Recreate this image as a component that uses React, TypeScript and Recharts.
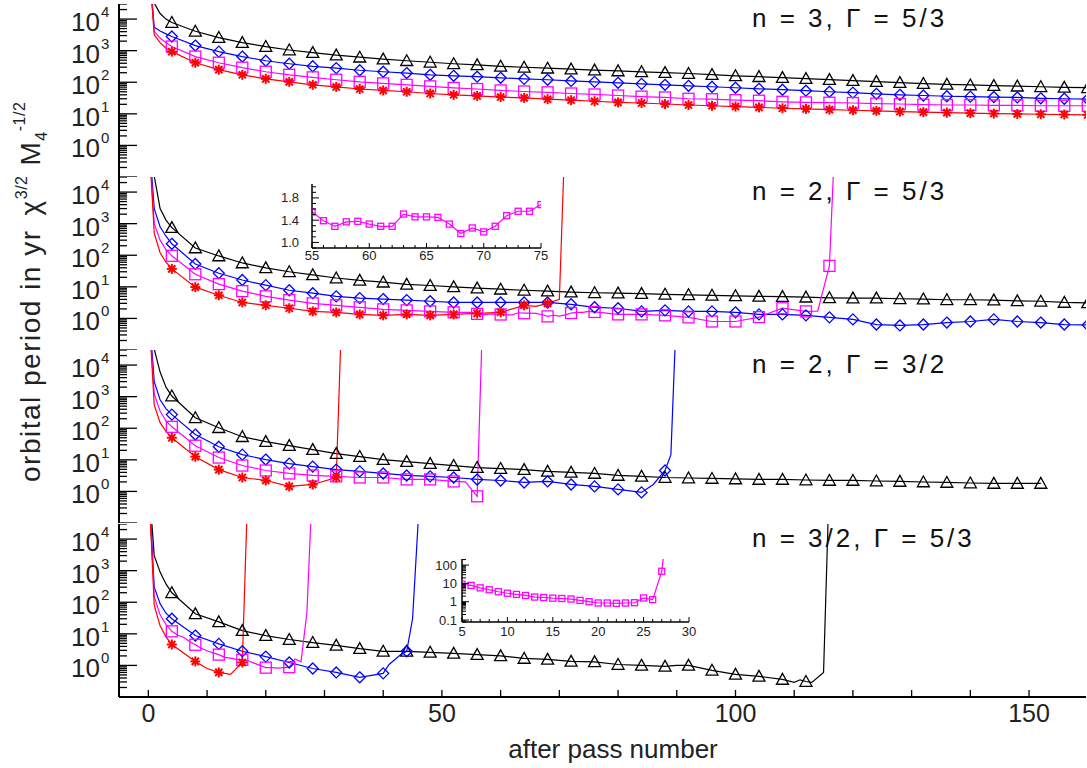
import React from "react";
import { LineChart, Line, XAxis, YAxis } from "recharts";

type Pt = [number, number];

// ---- axes / labels ----
const X_TICKS = [0, 10, 20, 30, 40, 50, 60, 70, 80, 90, 100, 110, 120, 130, 140, 150];
const X_LABELS = [0, 50, 100, 150];
const Y_LABELS = [1, 10, 100, 1000, 10000];
const PANEL_LABELS = ["n = 3, Γ = 5/3", "n = 2, Γ = 5/3", "n = 2, Γ = 3/2", "n = 3/2, Γ = 5/3"];
const INSET_A_XLABELS = [55, 60, 65, 70, 75];
const INSET_A_YLABELS = [1.0, 1.4, 1.8];
const INSET_B_XLABELS = [5, 10, 15, 20, 25, 30];
const INSET_B_YLABELS = [0.1, 1, 10, 100];

// ---- panel 1: n = 3, Gamma = 5/3 ----
const p1Black: Pt[] = [[0, 1e6], [1, 32000], [2, 15000], [3, 10000], [4, 7800], [8, 4100], [12, 2600], [16, 1800], [20, 1350], [24, 1050], [28, 870], [32, 720], [36, 620], [40, 540], [44, 480], [48, 430], [52, 385], [56, 355], [60, 320], [64, 298], [68, 278], [72, 260], [76, 243], [80, 228], [84, 214], [88, 201], [92, 189], [96, 175], [100, 160], [104, 150], [108, 140], [112, 130], [116, 121], [120, 113], [124, 105], [128, 97], [132, 91], [136, 86], [140, 82], [144, 78], [148, 75], [152, 72], [156, 69], [160, 67]];
const p1Blue: Pt[] = [[0, 1e6], [1, 5500], [2, 4200], [3, 3400], [4, 2800], [8, 1450], [12, 930], [16, 650], [20, 480], [24, 385], [28, 320], [32, 280], [36, 240], [40, 215], [44, 195], [48, 172], [52, 160], [56, 150], [60, 138], [64, 128], [68, 120], [72, 110], [76, 103], [80, 96], [84, 89], [88, 83], [92, 77], [96, 72], [100, 67], [104, 62], [108, 58], [112, 54], [116, 50], [120, 47], [124, 43], [128, 40], [132, 38], [136, 36], [140, 35], [144, 34], [148, 33], [152, 31], [156, 30], [160, 29]];
const p1Magenta: Pt[] = [[0, 1e6], [1, 4100], [2, 2500], [3, 1800], [4, 1350], [8, 650], [12, 415], [16, 290], [20, 215], [24, 172], [28, 143], [32, 120], [36, 103], [40, 92], [44, 83], [48, 74], [52, 66], [56, 61], [60, 55], [64, 51], [68, 48], [72, 44], [76, 41], [80, 38], [84, 35], [88, 33], [92, 30], [96, 29], [100, 27], [104, 26], [108, 24], [112, 23], [116, 22.5], [120, 22], [124, 21], [128, 20.5], [132, 19.5], [136, 19], [140, 19], [144, 18.5], [148, 18.5], [152, 18], [156, 18], [160, 18]];
const p1Red: Pt[] = [[0, 1e6], [1, 3200], [2, 1800], [3, 1200], [4, 930], [8, 415], [12, 250], [16, 172], [20, 128], [24, 103], [28, 83], [32, 71], [36, 61], [40, 55], [44, 50], [48, 44], [52, 40], [56, 37], [60, 34], [64, 32], [68, 29], [72, 27], [76, 25], [80, 23], [84, 22], [88, 20.5], [92, 19], [96, 18], [100, 17], [104, 16], [108, 15], [112, 14.3], [116, 13.6], [120, 13], [124, 12.4], [128, 11.8], [132, 11.3], [136, 10.9], [140, 10.5], [144, 10.2], [148, 9.9], [152, 9.7], [156, 9.5], [160, 9.3]];

// ---- panel 2: n = 2, Gamma = 5/3 ----
const p2Black: Pt[] = [[0, 1e6], [1, 32000], [2, 3000], [3, 1300], [4, 750], [8, 170], [12, 95], [16, 57], [20, 40], [24, 30], [28, 24], [32, 19], [36, 16], [40, 14], [44, 12], [48, 11], [52, 10], [56, 9.1], [60, 8.4], [64, 7.8], [68, 7.3], [72, 6.8], [76, 6.5], [80, 6.3], [84, 6.1], [88, 5.8], [92, 5.6], [96, 5.4], [100, 5.2], [104, 5.0], [108, 4.9], [112, 4.7], [116, 4.5], [120, 4.4], [124, 4.4], [128, 4.2], [132, 4.1], [136, 3.9], [140, 3.9], [144, 3.8], [148, 3.6], [152, 3.5], [156, 3.2], [160, 3.1]];
const p2Blue: Pt[] = [[0, 1e6], [1, 3000], [2, 800], [3, 400], [4, 230], [8, 53], [12, 27], [16, 16.4], [20, 11.3], [24, 7.8], [28, 6.3], [32, 5.0], [36, 4.4], [40, 4.1], [44, 3.8], [48, 3.5], [52, 3.2], [56, 3.2], [60, 3.2], [64, 3.2], [68, 3.2], [72, 2.8], [76, 2.25], [80, 2.1], [84, 1.67], [88, 1.8], [92, 1.67], [96, 1.67], [100, 1.56], [104, 1.34], [108, 1.34], [112, 1.25], [116, 1.08], [120, 0.93], [124, 0.64], [128, 0.6], [132, 0.64], [136, 0.74], [140, 0.8], [144, 0.93], [148, 0.8], [152, 0.74], [156, 0.64], [160, 0.62]];
// magenta, passes 55-75 (also the upper inset)
const insetA: Pt[] = [[55, 1.55], [56, 1.39], [57, 1.29], [58, 1.37], [59, 1.38], [60, 1.33], [61, 1.29], [62, 1.29], [63, 1.51], [64, 1.46], [65, 1.46], [66, 1.45], [67, 1.33], [68, 1.16], [69, 1.26], [70, 1.19], [71, 1.29], [72, 1.48], [73, 1.56], [74, 1.56], [75, 1.68]];
const p2MagentaEarly: Pt[] = [[0, 1e6], [1, 1000], [2, 300], [3, 150], [4, 96], [8, 25], [12, 12.2], [16, 7.3], [20, 5.0], [24, 3.8], [28, 3.0], [32, 2.6], [36, 2.25], [40, 1.94], [44, 1.8], [48, 1.67], [52, 1.56]];
const p2MagentaLate: Pt[] = [[76, 1.6], [80, 1.34], [84, 1.34], [88, 1.25], [92, 1.08], [96, 0.8], [100, 0.8], [104, 1.1], [108, 2.1], [112, 1.67], [114, 1.7], [116, 46], [117, 1e6]];
const p2Red: Pt[] = [[0, 1e6], [1, 500], [2, 120], [3, 60], [4, 37], [8, 9.8], [12, 5.4], [16, 3.2], [20, 2.6], [24, 2.1], [28, 1.67], [32, 1.55], [36, 1.34], [40, 1.25], [44, 1.34], [48, 1.25], [52, 1.34], [56, 1.44], [60, 1.56], [64, 2.6], [66, 2.4], [68, 3.0], [70, 4.0], [71, 1e6]];

// ---- panel 3: n = 2, Gamma = 3/2 ----
const p3Black: Pt[] = [[0, 1e6], [1, 32000], [2, 6000], [3, 2000], [4, 1050], [8, 215], [12, 104], [16, 54], [20, 37.6], [24, 28.1], [28, 21], [32, 15.7], [36, 12.7], [40, 10.2], [44, 8.8], [48, 7.6], [52, 6.6], [56, 5.7], [60, 5.3], [64, 4.9], [68, 4.3], [72, 4.0], [76, 3.7], [80, 3.2], [84, 3.0], [88, 2.76], [92, 2.66], [96, 2.57], [100, 2.48], [104, 2.39], [108, 2.39], [112, 2.3], [116, 2.22], [120, 2.22], [124, 2.14], [128, 2.07], [132, 1.99], [136, 1.92], [140, 1.85], [144, 1.79], [148, 1.79], [152, 1.79]];
const p3Blue: Pt[] = [[0, 1e6], [1, 3000], [2, 800], [3, 420], [4, 270], [8, 63], [12, 26], [16, 14.6], [20, 10.2], [24, 7.6], [28, 6.1], [32, 4.9], [36, 4.3], [40, 3.7], [44, 3.2], [48, 3.0], [52, 2.76], [56, 2.39], [60, 2.22], [64, 1.92], [68, 2.07], [72, 1.66], [76, 1.44], [80, 1.16], [84, 0.93], [86, 1.66], [88, 4.6], [89, 14.6], [90, 1e6]];
const p3Magenta: Pt[] = [[0, 1e6], [1, 1200], [2, 350], [3, 170], [4, 111], [8, 28], [12, 11.8], [16, 6.6], [20, 4.6], [24, 3.7], [28, 3.2], [32, 3.0], [36, 2.76], [40, 2.76], [44, 2.4], [48, 2.4], [52, 2.07], [54, 2.0], [56, 0.7], [57, 1e6]];
const p3Red: Pt[] = [[0, 1e6], [1, 550], [2, 150], [3, 80], [4, 50], [8, 12.6], [12, 4.9], [16, 2.76], [20, 2.22], [24, 1.44], [28, 1.66], [32, 2.76], [33, 1e6]];

// ---- panel 4: n = 3/2, Gamma = 5/3 ----
const p4Black: Pt[] = [[0, 1e6], [1, 3000], [2, 900], [3, 380], [4, 200], [8, 43], [12, 24], [16, 12.6], [20, 8.8], [24, 6.6], [28, 5.3], [32, 4.3], [36, 3.4], [40, 2.8], [44, 2.8], [48, 2.6], [52, 2.4], [56, 2.2], [60, 2.0], [64, 1.66], [68, 1.55], [72, 1.34], [76, 1.29], [80, 1.07], [84, 1.0], [88, 0.93], [90, 1.0], [92, 1.0], [96, 0.7], [100, 0.52], [104, 0.45], [108, 0.36], [110, 0.29], [111, 0.35], [112, 0.31], [113, 0.29], [115, 0.6], [116, 1e6]];
const p4Blue: Pt[] = [[0, 1e6], [1, 300], [2, 90], [3, 45], [4, 30], [8, 8.8], [12, 4.8], [16, 2.8], [20, 1.9], [24, 1.24], [28, 0.8], [32, 0.6], [36, 0.42], [40, 0.56], [41, 1.07], [43, 2.2], [44, 2.8], [45, 30], [46, 50000]];
// magenta, passes 5-27 (also the lower inset)
const insetB: Pt[] = [[5, 9], [6, 7.8], [7, 5.7], [8, 4.5], [9, 3.5], [10, 2.9], [11, 2.5], [12, 2.2], [13, 1.8], [14, 1.7], [15, 1.56], [16, 1.5], [17, 1.4], [18, 1.18], [19, 1.0], [20, 0.85], [21, 0.85], [22, 0.82], [23, 0.85], [24, 0.88], [25, 1.6], [26, 1.3], [27, 46], [28, 1e6]];
const p4MagentaEarly: Pt[] = [[0, 1e6], [1, 150], [2, 40], [3, 20], [4, 12]];
const p4Red: Pt[] = [[0, 1e6], [1, 80], [2, 18], [3, 8], [4, 4.6], [8, 1.34], [10, 0.8], [12, 0.6], [14, 0.52], [16, 1.24], [17, 1e6]];

// ---- layout ----
const W = 1087;
const PLOT_L = 119;
const PLOT_R = 1086;
const PANEL_H = 173;
const PANEL_TOPS = [4, 177, 350, 524];
const X_DOMAIN: [number, number] = [-5, 159.7];
const Y_DOMAIN: [number, number] = [0.1, 30000];
const FONT = "'Liberation Sans', Arial, Helvetica, sans-serif";
const TXT = "#222";

const BLACK = "#000000";
const BLUE = "#0000ff";
const MAGENTA = "#ff00ff";
const RED = "#ff0000";

type Kind = "tri" | "dia" | "sq" | "star";
type Series = { pts: Pt[]; color: string; kind: Kind };

const PANELS: Series[][] = [
  [
    { pts: p1Black, color: BLACK, kind: "tri" },
    { pts: p1Blue, color: BLUE, kind: "dia" },
    { pts: p1Magenta, color: MAGENTA, kind: "sq" },
    { pts: p1Red, color: RED, kind: "star" },
  ],
  [
    { pts: p2Black, color: BLACK, kind: "tri" },
    { pts: p2Blue, color: BLUE, kind: "dia" },
    { pts: [...p2MagentaEarly, ...insetA, ...p2MagentaLate], color: MAGENTA, kind: "sq" },
    { pts: p2Red, color: RED, kind: "star" },
  ],
  [
    { pts: p3Black, color: BLACK, kind: "tri" },
    { pts: p3Blue, color: BLUE, kind: "dia" },
    { pts: p3Magenta, color: MAGENTA, kind: "sq" },
    { pts: p3Red, color: RED, kind: "star" },
  ],
  [
    { pts: p4Black, color: BLACK, kind: "tri" },
    { pts: p4Blue, color: BLUE, kind: "dia" },
    { pts: [...p4MagentaEarly, ...insetB], color: MAGENTA, kind: "sq" },
    { pts: p4Red, color: RED, kind: "star" },
  ],
];

const rows = (pts: Pt[]) => pts.map(([pass, v]) => ({ pass, v }));

const range = (a: number, b: number, step = 1) => {
  const out: number[] = [];
  for (let v = a; v <= b + 1e-9; v += step) out.push(+v.toFixed(6));
  return out;
};

const logTicks = (lo: number, hi: number) => {
  const out: number[] = [];
  for (let d = Math.floor(Math.log10(lo)) - 1; d <= Math.ceil(Math.log10(hi)); d++) {
    for (let m = 1; m <= 9; m++) {
      const v = +(m * Math.pow(10, d)).toPrecision(6);
      if (v >= lo * 0.999 && v <= hi * 1.001) out.push(v);
    }
  }
  return out;
};

const inList = (list: number[]) => (v: number) => list.some((l) => Math.abs(l - v) < 1e-6 * Math.max(1, Math.abs(l)));

type Side = "left" | "right" | "top" | "bottom";
type TickCfg = {
  big: number;
  small: number;
  isMajor: (v: number) => boolean;
  width?: number;
  label?: (v: number, x: number, y: number) => React.ReactNode;
};

// ticks are drawn pointing into the plot, labels outside
const sideTick = (side: Side, cfg: TickCfg) => (p: any) => {
  const { x, y, payload } = p;
  const v = payload.value;
  const major = cfg.isMajor(v);
  const len = major ? cfg.big : cfg.small;
  const sw = cfg.width ?? 1.3;
  let ln;
  if (side === "left") ln = { x1: x, x2: x + len, y1: y, y2: y };
  else if (side === "right") ln = { x1: x - len, x2: x, y1: y, y2: y };
  else if (side === "top") ln = { x1: x, x2: x, y1: y, y2: y + len };
  else ln = { x1: x, x2: x, y1: y - len, y2: y };
  return (
    <g key={`${side}-${v}`}>
      <line {...ln} stroke="#000" strokeWidth={sw} />
      {major && cfg.label ? cfg.label(v, x, y) : null}
    </g>
  );
};

const powLabel = (v: number, x: number, y: number) => {
  const e = Math.round(Math.log10(v));
  return (
    <g fill={TXT} fontFamily={FONT}>
      <text x={x - 19} y={y + 12} textAnchor="end" fontSize={26}>10</text>
      <text x={x - 18} y={y - 2} fontSize={15}>{e}</text>
    </g>
  );
};

const marker = (kind: Kind, cx: number, cy: number, color: string, s = 1) => {
  if (kind === "tri") {
    const h = 6 * s;
    return <polygon points={`${cx},${cy - h} ${cx - h},${cy + h * 0.8} ${cx + h},${cy + h * 0.8}`} fill="none" stroke={color} strokeWidth={1.3} />;
  }
  if (kind === "dia") {
    const h = 5.5 * s;
    return <polygon points={`${cx},${cy - h} ${cx + h},${cy} ${cx},${cy + h} ${cx - h},${cy}`} fill="none" stroke={color} strokeWidth={1.3} />;
  }
  if (kind === "sq") {
    const h = 5.5 * s;
    return <rect x={cx - h} y={cy - h} width={2 * h} height={2 * h} fill="none" stroke={color} strokeWidth={1.3} />;
  }
  const h = 5 * s;
  const d = h * 0.72;
  return (
    <g stroke={color} strokeWidth={2}>
      <line x1={cx - h} x2={cx + h} y1={cy} y2={cy} />
      <line x1={cx} x2={cx} y1={cy - h} y2={cy + h} />
      <line x1={cx - d} x2={cx + d} y1={cy - d} y2={cy + d} />
      <line x1={cx - d} x2={cx + d} y1={cy + d} y2={cy - d} />
    </g>
  );
};

const dotFor = (kind: Kind, color: string, every: number, scale = 1, maxV = 30000) => (p: any) => {
  const { cx, cy, payload, index } = p;
  const show = cx != null && cy != null && payload.pass > 0 && payload.pass % every === 0 && payload.v < maxV;
  if (!show) return <g key={`d${index}`} />;
  return <g key={`d${index}`}>{marker(kind, cx, cy, color, scale)}</g>;
};

const Y_TICKS = logTicks(0.1, 30000);
const isPow10 = inList(Y_LABELS.concat([0.1]));
const isX50 = inList(X_LABELS);

function Panel({ top, series, last }: { top: number; series: Series[]; last: boolean }) {
  const xh = last ? 71 : 0;
  const axisLine = { stroke: "#000", strokeWidth: 2 };
  return (
    <div style={{ position: "absolute", left: 0, top }}>
      <LineChart width={W} height={PANEL_H + xh} margin={{ top: 0, right: W - PLOT_R, bottom: 0, left: 0 }}>
        <XAxis
          xAxisId="b"
          type="number"
          dataKey="pass"
          domain={X_DOMAIN}
          allowDataOverflow
          ticks={X_TICKS}
          interval={0}
          height={xh}
          tickSize={0}
          tickMargin={0}
          tickLine={false}
          axisLine={axisLine}
          tick={sideTick("bottom", {
            big: 7,
            small: 4,
            isMajor: () => true,
            label: (v, x, y) =>
              last && isX50(v) ? (
                <text x={x} y={y + 25} textAnchor="middle" fontSize={25} fill={TXT} fontFamily={FONT}>{v}</text>
              ) : null,
          })}
        />
        <XAxis
          xAxisId="t"
          orientation="top"
          type="number"
          dataKey="pass"
          domain={X_DOMAIN}
          allowDataOverflow
          ticks={X_TICKS}
          interval={0}
          height={0}
          tickSize={0}
          tickMargin={0}
          tickLine={false}
          axisLine={axisLine}
          tick={sideTick("top", { big: 7, small: 4, isMajor: isX50 })}
        />
        <YAxis
          yAxisId="l"
          type="number"
          scale="log"
          domain={Y_DOMAIN}
          allowDataOverflow
          ticks={Y_TICKS}
          interval={0}
          width={PLOT_L}
          tickSize={0}
          tickMargin={0}
          tickLine={false}
          axisLine={axisLine}
          tick={sideTick("left", {
            big: 18,
            small: 8,
            isMajor: isPow10,
            label: (v, x, y) => (Y_LABELS.includes(v) ? powLabel(v, x, y) : null),
          })}
        />
        <YAxis
          yAxisId="r"
          orientation="right"
          type="number"
          scale="log"
          domain={Y_DOMAIN}
          allowDataOverflow
          ticks={Y_TICKS}
          interval={0}
          width={0}
          tickSize={0}
          tickMargin={0}
          tickLine={false}
          axisLine={axisLine}
          tick={sideTick("right", { big: 17, small: 7, isMajor: isPow10 })}
        />
        {series.map((s, i) => (
          <Line
            key={i}
            xAxisId="b"
            yAxisId="l"
            data={rows(s.pts)}
            dataKey="v"
            type="linear"
            stroke={s.color}
            strokeWidth={1.2}
            dot={dotFor(s.kind, s.color, 4)}
            activeDot={false}
            isAnimationActive={false}
          />
        ))}
      </LineChart>
    </div>
  );
}

type InsetProps = {
  left: number;
  top: number;
  yw: number;
  plotW: number;
  plotH: number;
  right: number;
  pts: Pt[];
  xDomain: [number, number];
  xTicks: number[];
  xLabels: number[];
  yDomain: [number, number];
  yTicks: number[];
  yLabels: number[];
  log: boolean;
  yLabelGap: number;
  xLabelGap: number;
  fmt: (v: number) => string;
};

function Inset(p: InsetProps) {
  const xMaj = inList(p.xLabels);
  const yMaj = inList(p.yLabels);
  const axisLine = { stroke: "#000", strokeWidth: 1.5 };
  const xLabel = (v: number, x: number, y: number) => (
    <text x={x} y={y + p.xLabelGap} textAnchor="middle" fontSize={13} fill={TXT} fontFamily={FONT}>{v}</text>
  );
  const yLabel = (v: number, x: number, y: number) => (
    <text x={x - p.yLabelGap} y={y + 4.5} textAnchor="end" fontSize={13} fill={TXT} fontFamily={FONT}>{p.fmt(v)}</text>
  );
  const common = { type: "number" as const, allowDataOverflow: true, interval: 0 as const, tickSize: 0, tickMargin: 0, tickLine: false, axisLine };
  return (
    <div style={{ position: "absolute", left: p.left, top: p.top }}>
      <LineChart width={p.yw + p.plotW + p.right} height={4 + p.plotH + 22} margin={{ top: 4, right: p.right, bottom: 0, left: 0 }}>
        <XAxis xAxisId="b" dataKey="pass" domain={p.xDomain} ticks={p.xTicks} height={22} {...common}
          tick={sideTick("bottom", { big: 5, small: 3, isMajor: xMaj, width: 1, label: xLabel })} />
        <XAxis xAxisId="t" orientation="top" dataKey="pass" domain={p.xDomain} ticks={p.xTicks} height={0} {...common}
          tick={sideTick("top", { big: 5, small: 3, isMajor: xMaj, width: 1 })} />
        <YAxis yAxisId="l" scale={p.log ? "log" : "linear"} domain={p.yDomain} ticks={p.yTicks} width={p.yw} {...common}
          tick={sideTick("left", { big: 7, small: 4, isMajor: yMaj, width: 1, label: yLabel })} />
        <YAxis yAxisId="r" orientation="right" scale={p.log ? "log" : "linear"} domain={p.yDomain} ticks={p.yTicks} width={0} {...common}
          tick={sideTick("right", { big: 7, small: 4, isMajor: yMaj, width: 1 })} />
        <Line
          xAxisId="b"
          yAxisId="l"
          data={rows(p.pts)}
          dataKey="v"
          type="linear"
          stroke={MAGENTA}
          strokeWidth={1.2}
          dot={dotFor("sq", MAGENTA, 1, 0.55, p.yDomain[1])}
          activeDot={false}
          isAnimationActive={false}
        />
      </LineChart>
    </div>
  );
}

export default function App() {
  return (
    <div style={{ position: "absolute", left: 0, top: 0, width: W, height: 768, background: "#fff", overflow: "hidden" }}>
      {PANELS.map((s, i) => (
        <Panel key={i} top={PANEL_TOPS[i]} series={s} last={i === PANELS.length - 1} />
      ))}
      <Inset
        left={270}
        top={180}
        yw={42}
        plotW={229}
        plotH={64}
        right={14}
        pts={insetA}
        xDomain={[55, 75]}
        xTicks={range(55, 75)}
        xLabels={INSET_A_XLABELS}
        yDomain={[0.9, 2.05]}
        yTicks={range(0.9, 2.0, 0.1)}
        yLabels={INSET_A_YLABELS}
        log={false}
        yLabelGap={13}
        xLabelGap={12}
        fmt={(v) => v.toFixed(1)}
      />
      <Inset
        left={417}
        top={555}
        yw={45}
        plotW={227}
        plotH={63}
        right={14}
        pts={insetB}
        xDomain={[5, 30]}
        xTicks={range(5, 30)}
        xLabels={INSET_B_XLABELS}
        yDomain={[0.078, 215]}
        yTicks={logTicks(0.078, 215)}
        yLabels={INSET_B_YLABELS}
        log={true}
        yLabelGap={5}
        xLabelGap={14}
        fmt={(v) => String(v)}
      />
      <svg width={W} height={768} style={{ position: "absolute", left: 0, top: 0, pointerEvents: "none" }}>
        {PANEL_LABELS.map((t, i) => (
          <text key={i} x={752} y={PANEL_TOPS[i] + 23} fontSize={26} fill="#111" fontFamily={FONT} letterSpacing={3}>
            {t}
          </text>
        ))}
        <text x={613} y={758} textAnchor="middle" fontSize={26} fill={TXT} fontFamily={FONT}>after pass number</text>
        <text transform="translate(40,482) rotate(-90)" fontSize={28} fill={TXT} fontFamily={FONT} letterSpacing={1.5}>
          orbital period in yr
          <tspan dx={14}>χ</tspan>
          <tspan dy={-13} fontSize={16} letterSpacing={0.5}>3/2</tspan>
          <tspan dy={13} dx={10}>M</tspan>
          <tspan dy={7} fontSize={16} letterSpacing={0.5}>4</tspan>
          <tspan dy={-22} fontSize={16} letterSpacing={0.5}>-1/2</tspan>
        </text>
      </svg>
    </div>
  );
}
